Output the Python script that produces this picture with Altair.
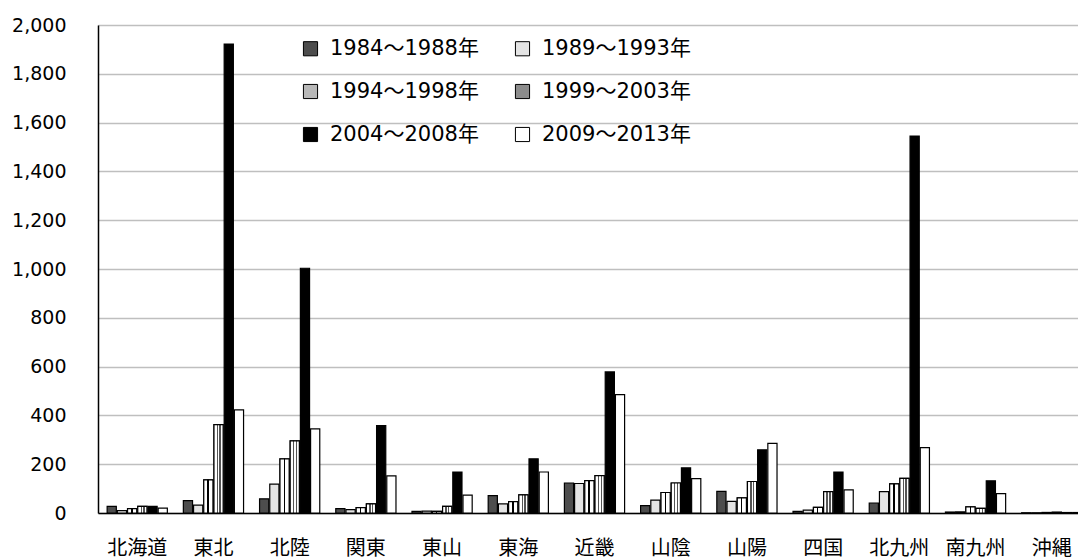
import altair as alt
import pandas as pd

regions = ["北海道", "東北", "北陸", "関東", "東山", "東海", "近畿", "山陰", "山陽", "四国", "北九州", "南九州", "沖縄"]
periods = ["1984～1988年", "1989～1993年", "1994～1998年", "1999～2003年", "2004～2008年", "2009～2013年"]
v1984 = [27, 51, 58, 18, 7, 71, 123, 30, 89, 7, 41, 4, 1]
v1989 = [10, 32, 118, 14, 8, 37, 121, 53, 48, 12, 88, 5, 1]
v1994 = [18, 136, 222, 22, 7, 47, 133, 84, 62, 23, 119, 25, 2]
v1999 = [27, 362, 296, 37, 27, 74, 153, 123, 129, 88, 142, 19, 3]
v2004 = [27, 1922, 1003, 358, 168, 222, 578, 185, 259, 168, 1545, 132, 2]
v2009 = [20, 423, 345, 152, 73, 168, 485, 141, 285, 95, 268, 79, 2]
fills = ["#4d4d4d", "#e4e4e4", "#b8b8b8", "#8c8c8c", "#000000", "#ffffff"]

series = [v1984, v1989, v1994, v1999, v2004, v2009]
rows = []
for p, vals in zip(periods, series):
    for r, v in zip(regions, vals):
        rows.append({"region": r, "period": p, "value": v})
df = pd.DataFrame(rows)

FONT = "DejaVu Sans, Noto Sans CJK JP"

x_enc = alt.X("region:N", sort=regions,
              scale=alt.Scale(range=[0, 993], paddingInner=0.21, paddingOuter=0.12),
              axis=alt.Axis(title=None, labelAngle=0, ticks=False, domainColor="black",
                            domainWidth=1.5, labelFontSize=20, labelPadding=25,
                            labelColor="black", labelFont=FONT, grid=False))
xo_enc = alt.XOffset("period:N", sort=periods,
                     scale=alt.Scale(domain=periods, paddingInner=0.1))
y_enc = alt.Y("value:Q", scale=alt.Scale(domain=[0, 2000]),
              axis=alt.Axis(title=None, values=list(range(0, 2001, 200)), format=",d",
                            ticks=False, domain=True, domainColor="black", domainWidth=1.5,
                            gridColor="#bfbfbf", gridWidth=1.5, labelPadding=32,
                            labelFontSize=19, labelColor="black", labelFont=FONT))

base = alt.Chart(df).mark_bar(stroke="black", strokeWidth=1.2).encode(
    x=x_enc, xOffset=xo_enc, y=y_enc,
    fill=alt.Fill("period:N", sort=periods,
                  scale=alt.Scale(domain=periods, range=fills),
                  legend=alt.Legend(title=None, orient="none", legendX=202, legendY=13,
                                    direction="horizontal", columns=2,
                                    symbolType="square", symbolSize=200,
                                    symbolStrokeColor="black", symbolStrokeWidth=1,
                                    labelFontSize=21, labelFont=FONT, labelColor="black",
                                    rowPadding=21, columnPadding=33, labelOffset=9)),
)

stripes = alt.Gradient(gradient="linear", x1=0, x2=1, y1=0, y2=0, stops=[
    alt.GradientStop(offset=0, color="white"), alt.GradientStop(offset=0.4, color="white"),
    alt.GradientStop(offset=0.4, color="black"), alt.GradientStop(offset=0.55, color="black"),
    alt.GradientStop(offset=0.55, color="white"), alt.GradientStop(offset=1, color="white")])
dots = alt.Gradient(gradient="linear", x1=0, x2=1, y1=0, y2=0, stops=[
    alt.GradientStop(offset=0, color="white"), alt.GradientStop(offset=0.3, color="white"),
    alt.GradientStop(offset=0.3, color="#555555"), alt.GradientStop(offset=0.45, color="#555555"),
    alt.GradientStop(offset=0.45, color="white"), alt.GradientStop(offset=0.6, color="white"),
    alt.GradientStop(offset=0.6, color="#555555"), alt.GradientStop(offset=0.75, color="#555555"),
    alt.GradientStop(offset=0.75, color="white"), alt.GradientStop(offset=1, color="white")])

l94 = alt.Chart(df).transform_filter(alt.datum.period == periods[2]).mark_bar(
    fill=stripes, stroke="black", strokeWidth=1.2).encode(x=x_enc, xOffset=xo_enc, y=y_enc)
l99 = alt.Chart(df).transform_filter(alt.datum.period == periods[3]).mark_bar(
    fill=dots, stroke="black", strokeWidth=1.2).encode(x=x_enc, xOffset=xo_enc, y=y_enc)

chart = alt.layer(base, l94, l99).properties(
    width=980, height=488,
    autosize=alt.AutoSizeParams(type="none"),
    padding={"left": 98, "top": 25, "right": 0, "bottom": 46},
).configure_view(stroke=None).configure(background="white")

chart.save("out.html", embed_options={"renderer": "svg", "actions": False})
